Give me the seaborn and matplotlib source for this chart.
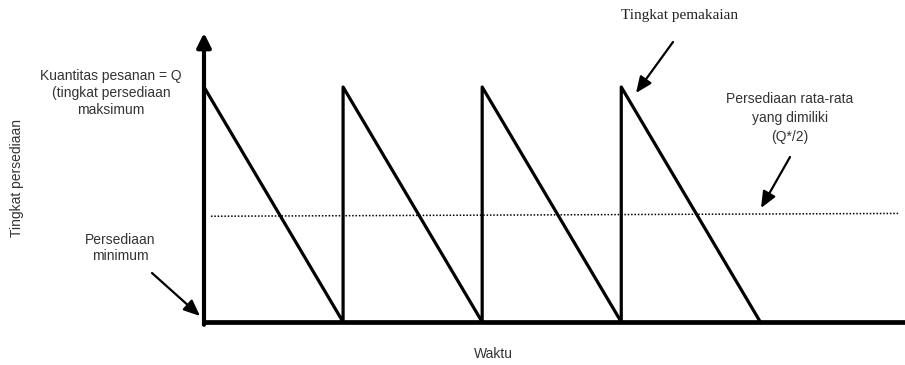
import matplotlib
matplotlib.use("Agg")
import matplotlib.pyplot as plt
import matplotlib.patches as mpatches
import seaborn as sns
import pandas as pd

# ---- data ----
cycle_starts = [0.0, 1.0, 2.0, 3.0]
cycle_ends = [1.0, 2.0, 3.0, 4.0]
order_qty = 1.0            # Q (maximum inventory level)
avg_x = [0.05, 5.0]        # average inventory dotted line
avg_y = [0.45, 0.462]
x_max = 5.04
y_arrow_top = 1.23

labels = {
    "ylabel": "Tingkat persediaan",
    "xlabel": "Waktu",
    "qty": "Kuantitas pesanan = Q\n(tingkat persediaan\nmaksimum",
    "min": "Persediaan\nminimum",
    "usage": "Tingkat pemakaian",
    "avg": "Persediaan rata-rata\nyang dimiliki\n(Q*/2)",
}

# build sawtooth path from cycles
xs, ys = [], []
for s, e in zip(cycle_starts, cycle_ends):
    xs += [s, s, e]
    ys += [0.0, order_qty, 0.0]
saw = pd.DataFrame({"t": xs, "level": ys})
avg = pd.DataFrame({"t": avg_x, "level": avg_y})

sns.set_theme(style="white")
plt.rcParams["font.family"] = ["Liberation Sans", "DejaVu Sans"]

fig = plt.figure(figsize=(9.05, 3.65), dpi=100)
ax = fig.add_axes([204 / 905, 43 / 365, 701 / 905, 322 / 365])
ax.set_xlim(0, x_max)
ax.set_ylim(0, 322 / 235)
for sp in ax.spines.values():
    sp.set_visible(False)
ax.set_xticks([])
ax.set_yticks([])

sns.lineplot(data=saw, x="t", y="level", sort=False, color="black",
             linewidth=2.3, ax=ax, estimator=None)
sns.lineplot(data=avg, x="t", y="level", color="black", linewidth=1.1,
             linestyle=(0, (1, 1.2)), ax=ax, estimator=None)

# axes lines
ax.plot([0, x_max], [0, 0], color="black", linewidth=3.4,
        solid_capstyle="butt", clip_on=False)
ax.annotate("", xy=(0, y_arrow_top), xytext=(0, -0.012),
            arrowprops=dict(arrowstyle="-|>,head_length=0.7,head_width=0.35",
                            color="black", lw=3.0, shrinkA=0, shrinkB=0),
            annotation_clip=False)

ax.set_xlabel("")
ax.set_ylabel("")

tc = "#333333"
fs = 10
def fx(px):
    return px / 905
def fy(py):
    return 1 - py / 365

fig.text(fx(17), fy(178), labels["ylabel"], rotation=90, ha="center",
         va="center", fontsize=fs, color=tc)
fig.text(fx(493), fy(354), labels["xlabel"], ha="center", va="center",
         fontsize=fs, color=tc)
fig.text(fx(111), fy(93), labels["qty"], ha="center", va="center",
         fontsize=fs, color=tc, linespacing=1.28)
fig.text(fx(120), fy(248), labels["min"], ha="center", va="center",
         fontsize=fs, color=tc, linespacing=1.2)
fig.text(fx(790), fy(118), labels["avg"], ha="center", va="center",
         fontsize=fs, color=tc, linespacing=1.45)
fig.text(fx(680), fy(15), labels["usage"], ha="center", va="center",
         fontsize=11, color="#222222", family=["Liberation Serif", "DejaVu Serif"])

def arrow(p0, p1):
    fig.add_artist(mpatches.FancyArrowPatch(
        (fx(p0[0]), fy(p0[1])), (fx(p1[0]), fy(p1[1])),
        transform=fig.transFigure, arrowstyle="-|>,head_length=0.7,head_width=0.3",
        mutation_scale=14, color="black", lw=1.6, shrinkA=0, shrinkB=0))

arrow((152, 273), (200, 316))
arrow((673, 42), (636, 93))
arrow((790, 157), (761, 208))

fig.savefig("out.png", dpi=100, facecolor="white")
